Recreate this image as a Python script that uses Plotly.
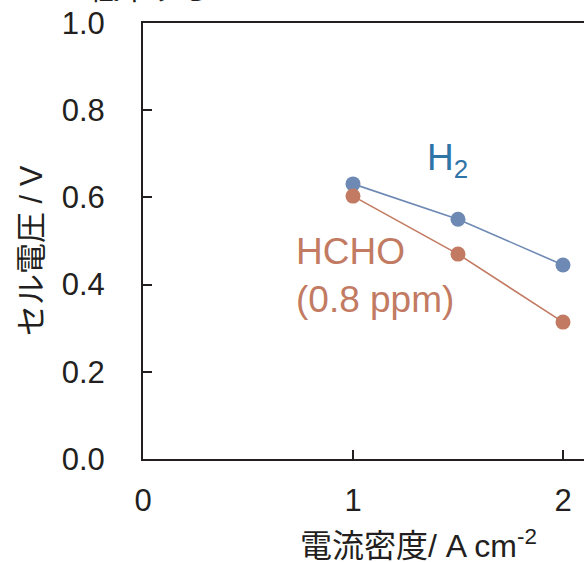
import plotly.graph_objects as go

current_density = [1.0, 1.5, 2.0]
h2_voltage = [0.631, 0.550, 0.445]
hcho_voltage = [0.603, 0.470, 0.314]

x_ticks = [0, 1, 2]
y_ticks = [0.0, 0.2, 0.4, 0.6, 0.8, 1.0]

H2_COLOR = "#6E8AB4"
H2_TEXT = "#2F74A6"
HCHO_COLOR = "#C27B62"
AXIS = "#231F20"
FONT = "Liberation Sans, Arial, Noto Sans CJK JP, sans-serif"

fig = go.Figure()
fig.add_trace(go.Scatter(x=current_density, y=h2_voltage, mode="lines+markers",
                         line=dict(color=H2_COLOR, width=1.6),
                         marker=dict(color=H2_COLOR, size=15), showlegend=False))
fig.add_trace(go.Scatter(x=current_density, y=hcho_voltage, mode="lines+markers",
                         line=dict(color=HCHO_COLOR, width=1.6),
                         marker=dict(color=HCHO_COLOR, size=15), showlegend=False))

fig.add_annotation(x=1.45, y=0.685, xref="x", yref="y", text="H<sub>2</sub>",
                   showarrow=False, font=dict(color=H2_TEXT, size=37, family=FONT),
                   xanchor="center", yanchor="middle")
fig.add_annotation(x=0.72, y=0.42, xref="x", yref="y",
                   text="HCHO<br>(0.8 ppm)", align="left",
                   showarrow=False, font=dict(color=HCHO_COLOR, size=37, family=FONT),
                   xanchor="left", yanchor="middle")
# partially visible text cut off at the top of the image
fig.add_annotation(x=0.016, y=1, xref="paper", yref="paper", text="低下する",
                   showarrow=False, font=dict(color=AXIS, size=30, family="Noto Sans CJK JP"),
                   xanchor="center", yanchor="bottom", yshift=13)
# axis titles
fig.add_annotation(x=0.624, y=0, xref="paper", yref="paper", text="電流密度/ A cm<sup>-2</sup>",
                   showarrow=False, font=dict(color=AXIS, size=32, family=FONT),
                   xanchor="center", yanchor="middle", yshift=-85)
fig.add_annotation(x=0, y=0.5, xref="paper", yref="paper", text="セル電圧 / V",
                   showarrow=False, font=dict(color=AXIS, size=31, family=FONT),
                   textangle=-90, xanchor="center", yanchor="middle", xshift=-112, yshift=-10)

fig.update_layout(
    width=584, height=562,
    margin=dict(l=143, r=0, t=23, b=103),
    paper_bgcolor="white", plot_bgcolor="white",
    font=dict(family=FONT, color=AXIS, size=31),
    xaxis=dict(range=[0, 2.1], tickvals=x_ticks, ticktext=[str(v) for v in x_ticks],
               showline=True, linecolor=AXIS, linewidth=2, mirror=True,
               ticks="inside", ticklen=9, tickwidth=1.5, tickcolor=AXIS,
               showgrid=False, zeroline=False, ticklabelstandoff=13,
               tickfont=dict(size=31)),
    yaxis=dict(range=[0, 1.0], tickvals=y_ticks, tickformat=".1f",
               showline=True, linecolor=AXIS, linewidth=2, mirror=False,
               ticks="inside", ticklen=9, tickwidth=1.5, tickcolor=AXIS,
               showgrid=False, zeroline=False, ticklabelstandoff=30,
               tickfont=dict(size=31)),
)

fig.write_html("out.html", config={"displayModeBar": False},
               post_script="document.body.style.margin='0';")
